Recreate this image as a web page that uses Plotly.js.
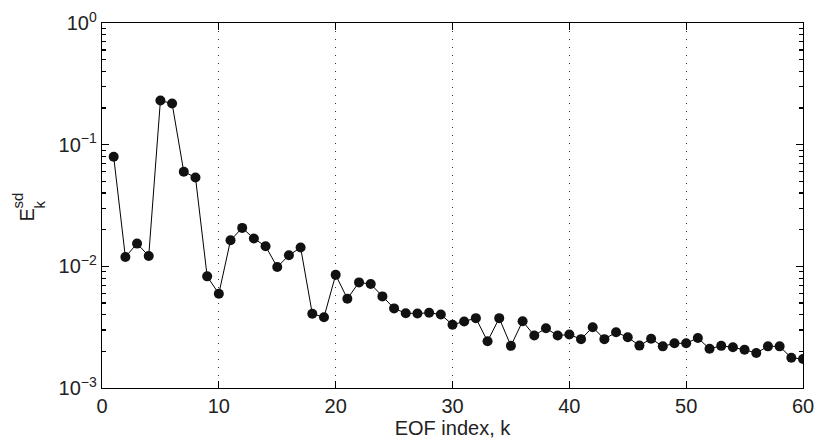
<!DOCTYPE html>
<html>
<head>
<meta charset="utf-8">
<script src="https://cdn.plot.ly/plotly-3.0.1.min.js"></script>
<style>html,body{margin:0;padding:0;background:#fff;}#chart{width:818px;height:448px;}</style>
</head>
<body>
<div id="chart"></div>
<script>
// EOF index k
const eofIndex = [1,2,3,4,5,6,7,8,9,10,11,12,13,14,15,16,17,18,19,20,
  21,22,23,24,25,26,27,28,29,30,31,32,33,34,35,36,37,38,39,40,
  41,42,43,44,45,46,47,48,49,50,51,52,53,54,55,56,57,58,59,60];
// E_k^sd values
const eSd = [0.0796,0.01193,0.01538,0.01216,0.2305,0.2178,0.0599,0.0538,0.00827,0.00595,
  0.01638,0.0207,0.01692,0.01462,0.00987,0.01232,0.01426,0.00407,0.00382,0.00851,
  0.00542,0.00738,0.00715,0.00566,0.00451,0.00412,0.00410,0.00415,0.00402,0.00331,
  0.00352,0.00375,0.00242,0.00375,0.00222,0.00354,0.00270,0.00310,0.00270,0.00275,
  0.00252,0.00316,0.00252,0.00287,0.00261,0.00223,0.00254,0.00220,0.00233,0.00233,
  0.00258,0.00210,0.00222,0.00216,0.00206,0.00194,0.00220,0.00220,0.00177,0.00173];
const xTicks = [0,10,20,30,40,50,60];
const yTicks = [0.001,0.01,0.1,1];
const yTickText = ['10<sup>\u22123</sup>','10<sup>\u22122</sup>','10<sup>\u22121</sup>','10<sup>0</sup>'];
const yMinor = [];
[0.001,0.01,0.1].forEach(d => { for (let m = 2; m <= 9; m++) yMinor.push(m*d); });

const fontFam = 'Liberation Sans, Arial, Helvetica, sans-serif';

const trace = {
  x: eofIndex, y: eSd, type: 'scatter', mode: 'lines+markers',
  line: {color: '#000', width: 1},
  marker: {color: '#111', size: 10},
  hoverinfo: 'skip'
};
// empty helper trace so the minor-tick axis is drawn
const minorAxisTrace = {x: [], y: [], type: 'scatter', mode: 'markers', yaxis: 'y2', hoverinfo: 'skip'};

const layout = {
  width: 818, height: 448,
  margin: {l: 102, r: 15, t: 23, b: 60},
  paper_bgcolor: '#fff', plot_bgcolor: '#fff',
  showlegend: false,
  font: {family: fontFam, size: 19, color: '#222'},
  xaxis: {
    range: [0, 60], tickmode: 'array', tickvals: xTicks, ticktext: xTicks.map(String),
    ticks: 'inside', ticklen: 7, tickcolor: '#000', tickwidth: 1.2,
    showline: true, linecolor: '#000', linewidth: 1.2, mirror: 'ticks',
    showgrid: true, gridcolor: '#333', griddash: '1px,7px', gridwidth: 1,
    zeroline: false, tickfont: {size: 20},
    title: {text: 'EOF index, k', font: {size: 20}, standoff: 2}
  },
  yaxis: {
    type: 'log', range: [-3, 0], tickmode: 'array', tickvals: yTicks, ticktext: yTickText,
    ticks: 'inside', ticklen: 7, tickcolor: '#000', tickwidth: 1.2,
    showline: true, linecolor: '#000', linewidth: 1.2, mirror: 'ticks',
    showgrid: false, zeroline: false, tickfont: {size: 20}
  },
  yaxis2: {
    type: 'log', range: [-3, 0], overlaying: 'y', side: 'left', anchor: 'x',
    tickmode: 'array', tickvals: yMinor, ticks: 'inside', ticklen: 4, tickcolor: '#000', tickwidth: 1.2,
    showticklabels: false, showline: false, mirror: 'ticks', showgrid: false, zeroline: false
  },
  annotations: [
    {text: 'E', xref: 'paper', yref: 'paper', x: 0, y: 0, xshift: -89, yshift: 164,
     textangle: -90, showarrow: false, font: {size: 20, family: fontFam, color: '#222'}},
    {text: 'sd', xref: 'paper', yref: 'paper', x: 0, y: 0, xshift: -96, yshift: 177,
     textangle: -90, showarrow: false, font: {size: 15, family: fontFam, color: '#222'}},
    {text: 'k', xref: 'paper', yref: 'paper', x: 0, y: 0, xshift: -74, yshift: 177,
     textangle: -90, showarrow: false, font: {size: 15, family: fontFam, color: '#222'}}
  ]
};

Plotly.newPlot('chart', [minorAxisTrace, trace], layout, {staticPlot: true, displayModeBar: false});
</script>
</body>
</html>
